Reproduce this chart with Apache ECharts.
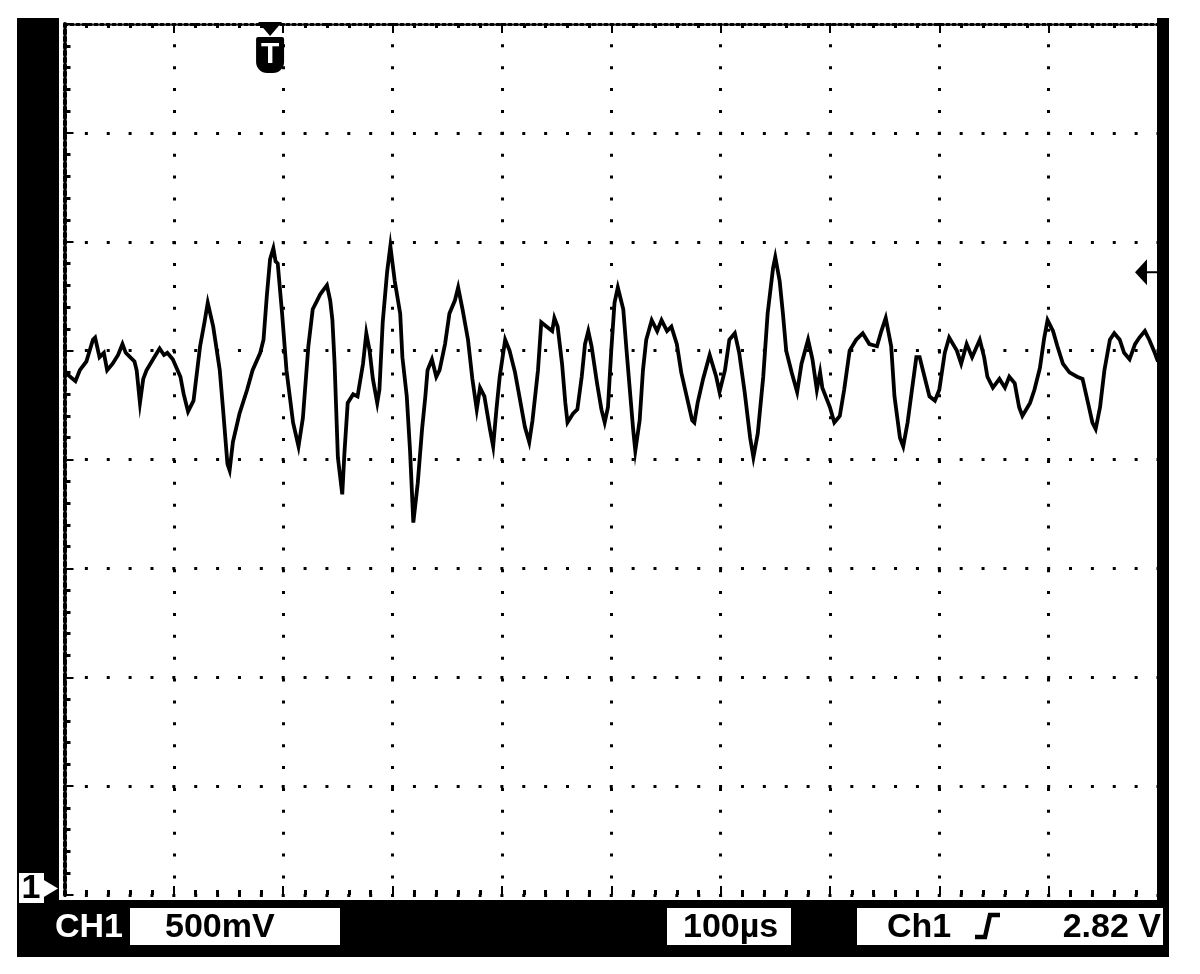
<!DOCTYPE html>
<html><head><meta charset="utf-8">
<script src="https://cdn.jsdelivr.net/npm/echarts@6/dist/echarts.min.js"></script>
<style>html,body{margin:0;padding:0;background:#fff}#c{width:1200px;height:974px}</style>
</head><body><div id="c"></div>
<script>
// Time axis (µs) and CH1 trace (V)
const timeUs = [0,3,10,14,20,26,28,32,36,39,44,49,53,56,60,64,66,69,72,75,81,87,91,94,99,106,109,113,118,124,128,131,136,142,145,149,151,154,160,167,172,179,182,185,188,191,193,195,199,203,209,214,218,223,227,231,234,237,240,243,245,247,250,254,256,259,264,268,273,276,279,282,286,288,291,295,298,302,307,309,313,316,319,323,327,330,332,336,340,343,348,352,357,360,364,369,373,377,380,384,389,392,395,398,403,407,412,416,421,425,428,433,436,441,446,448,451,455,458,460,465,469,473,476,479,482,487,491,494,497,500,503,506,511,514,517,520,522,526,529,532,537,542,546,551,555,560,564,569,574,576,579,584,590,596,599,604,608,613,617,622,627,630,634,639,643,648,650,654,657,660,665,670,674,680,684,688,691,693,700,704,709,713,718,724,730,736,743,747,751,756,759,764,767,771,775,779,782,787,791,796,800,805,809,816,820,825,830,837,841,844,849,855,860,864,869,873,876,883,887,892,896,899,904,908,913,919,926,931,936,940,943,947,951,956,960,965,969,974,979,983,988,992,997,1000];
const ch1Volts = [2.41,2.39,2.36,2.41,2.45,2.55,2.56,2.47,2.49,2.41,2.44,2.48,2.53,2.49,2.47,2.45,2.41,2.26,2.37,2.41,2.46,2.51,2.48,2.49,2.46,2.38,2.30,2.22,2.27,2.52,2.63,2.72,2.61,2.41,2.23,1.98,1.95,2.08,2.21,2.32,2.41,2.49,2.55,2.75,2.92,2.97,2.91,2.90,2.67,2.41,2.17,2.06,2.19,2.52,2.69,2.73,2.76,2.78,2.80,2.73,2.64,2.44,2.01,1.84,2.03,2.26,2.30,2.29,2.44,2.58,2.50,2.37,2.26,2.32,2.63,2.86,2.98,2.82,2.67,2.47,2.29,2.04,1.71,1.89,2.14,2.29,2.41,2.46,2.38,2.41,2.53,2.67,2.73,2.79,2.69,2.55,2.37,2.23,2.33,2.29,2.14,2.06,2.23,2.38,2.55,2.50,2.40,2.29,2.15,2.08,2.18,2.41,2.63,2.61,2.59,2.65,2.61,2.44,2.26,2.17,2.21,2.23,2.38,2.53,2.59,2.52,2.35,2.23,2.17,2.24,2.50,2.72,2.79,2.69,2.50,2.32,2.14,2.04,2.18,2.41,2.55,2.64,2.59,2.64,2.59,2.61,2.53,2.40,2.29,2.18,2.17,2.26,2.37,2.48,2.38,2.31,2.41,2.55,2.58,2.49,2.31,2.10,2.01,2.12,2.38,2.67,2.88,2.93,2.82,2.67,2.50,2.40,2.31,2.44,2.55,2.46,2.32,2.40,2.33,2.24,2.17,2.20,2.32,2.50,2.55,2.58,2.53,2.52,2.59,2.65,2.52,2.29,2.10,2.06,2.17,2.32,2.47,2.47,2.37,2.29,2.27,2.32,2.49,2.56,2.50,2.44,2.53,2.47,2.55,2.47,2.38,2.33,2.37,2.33,2.38,2.35,2.24,2.20,2.26,2.32,2.42,2.56,2.64,2.59,2.52,2.44,2.40,2.38,2.37,2.26,2.17,2.14,2.24,2.41,2.55,2.58,2.55,2.49,2.46,2.53,2.56,2.59,2.55,2.49,2.45];

const usPerDiv = 100;
const voltsPerDiv = 0.5;
const timeRange = [0, 1000];
const voltRange = [0, 4];
const triggerTimeUs = 188;
const triggerLevelV = 2.86;
const channelLabel = 'CH1';
const scaleLabel = '500mV';
const timebaseLabel = '100µs';
const trigSourceLabel = 'Ch1';
const trigLevelLabel = '2.82 V';

const data = timeUs.map((t, i) => [t, ch1Volts[i]]);
const chart = echarts.init(document.getElementById('c'), null, {renderer: 'canvas'});
const dot = {color: '#000', width: 3, type: [3, 18.87], dashOffset: 1.5};
const FONT = '"Liberation Sans", Arial, sans-serif';

chart.setOption({
  animation: false,
  backgroundColor: '#fff',
  grid: {left: 64.5, top: 24, width: 1093.5, height: 871, show: false},
  xAxis: [{
    type: 'value', min: timeRange[0], max: timeRange[1], interval: usPerDiv,
    axisLabel: {show: false},
    axisLine: {show: false},
    axisTick: {show: true, inside: true, length: 9, lineStyle: {color: '#000', width: 2}},
    minorTick: {show: true, splitNumber: 5, length: 5, lineStyle: {color: '#000', width: 3}},
    splitLine: {show: true, lineStyle: dot}
  }, {
    type: 'value', position: 'top', min: timeRange[0], max: timeRange[1], interval: usPerDiv,
    axisLabel: {show: false},
    axisLine: {show: true, onZero: false, lineStyle: {color: '#000', width: 3, type: [3, 3]}},
    axisTick: {show: true, inside: true, length: 9, lineStyle: {color: '#000', width: 2}},
    minorTick: {show: true, splitNumber: 5, length: 4, lineStyle: {color: '#000', width: 3}},
    splitLine: {show: false}
  }],
  yAxis: [{
    type: 'value', min: voltRange[0], max: voltRange[1], interval: voltsPerDiv,
    axisLabel: {show: false},
    axisLine: {show: true, onZero: false, lineStyle: {color: '#000', width: 4, type: [4, 3]}},
    axisTick: {show: true, inside: true, length: 9, lineStyle: {color: '#000', width: 2}},
    minorTick: {show: true, splitNumber: 5, length: 6, lineStyle: {color: '#000', width: 3}},
    splitLine: {show: true, lineStyle: dot}
  }],
  series: [{
    type: 'line', xAxisIndex: 0, yAxisIndex: 0, data: data,
    showSymbol: false, symbol: 'none',
    lineStyle: {color: '#000', width: 3.8, join: 'miter'},
    z: 5
  }]
});

const tx = chart.convertToPixel({xAxisIndex: 0}, triggerTimeUs);
const ty = chart.convertToPixel({yAxisIndex: 0}, triggerLevelV);
const gy = chart.convertToPixel({yAxisIndex: 0}, 0.03);

const g = [
  // black frame
  {type: 'rect', shape: {x: 17, y: 18, width: 42, height: 939}, style: {fill: '#000'}, z: 100},
  {type: 'rect', shape: {x: 17, y: 900, width: 1152, height: 57}, style: {fill: '#000'}, z: 100},
  {type: 'rect', shape: {x: 1157, y: 18, width: 12, height: 939}, style: {fill: '#000'}, z: 100},
  // readouts
  {type: 'text', x: 55, y: 928, style: {text: channelLabel, fill: '#fff', font: 'bold 34px ' + FONT, textVerticalAlign: 'middle'}, z: 101},
  {type: 'rect', shape: {x: 130, y: 908, width: 210, height: 37}, style: {fill: '#fff'}, z: 101},
  {type: 'text', x: 165, y: 928, style: {text: scaleLabel, fill: '#000', font: 'bold 34px ' + FONT, textVerticalAlign: 'middle'}, z: 102},
  {type: 'rect', shape: {x: 667, y: 908, width: 124, height: 37}, style: {fill: '#fff'}, z: 101},
  {type: 'text', x: 683, y: 928, style: {text: timebaseLabel, fill: '#000', font: 'bold 34px ' + FONT, textVerticalAlign: 'middle'}, z: 102},
  {type: 'rect', shape: {x: 857, y: 908, width: 306, height: 37}, style: {fill: '#fff'}, z: 101},
  {type: 'text', x: 887, y: 928, style: {text: trigSourceLabel, fill: '#000', font: 'bold 34px ' + FONT, textVerticalAlign: 'middle'}, z: 102},
  {type: 'polyline', shape: {points: [[975, 937], [985, 937], [990, 915], [1000, 915]]}, style: {stroke: '#000', lineWidth: 4.5, fill: null}, z: 102},
  {type: 'text', x: 1161, y: 928, style: {text: trigLevelLabel, fill: '#000', font: 'bold 34px ' + FONT, textVerticalAlign: 'middle', textAlign: 'right'}, z: 102},
  // ground marker "1▶"
  {type: 'rect', shape: {x: 19, y: 873, width: 25, height: 30}, style: {fill: '#fff'}, z: 102},
  {type: 'polygon', shape: {points: [[43, gy - 9], [58, gy], [43, gy + 9]]}, style: {fill: '#fff'}, z: 102},
  {type: 'text', x: 31, y: 889, style: {text: '1', fill: '#000', font: 'bold 34px ' + FONT, textAlign: 'center', textVerticalAlign: 'middle'}, z: 103},
  // trigger position marker
  {type: 'polygon', shape: {points: [[tx - 12, 22], [tx + 12, 22], [tx, 36]]}, style: {fill: '#000'}, z: 102},
  {type: 'rect', shape: {x: tx - 14, y: 37, width: 28, height: 36, r: [2, 2, 11, 11]}, style: {fill: '#000'}, z: 102},
  {type: 'text', x: tx, y: 55, style: {text: 'T', fill: '#fff', font: 'bold 30px ' + FONT, textAlign: 'center', textVerticalAlign: 'middle'}, z: 103},
  // trigger level marker
  {type: 'polygon', shape: {points: [[1135, ty], [1147, ty - 13], [1147, ty + 13]]}, style: {fill: '#000'}, z: 102},
  {type: 'line', shape: {x1: 1146, y1: ty, x2: 1157, y2: ty}, style: {stroke: '#000', lineWidth: 2}, z: 102}
];
chart.setOption({graphic: g});
</script>
</body></html>
